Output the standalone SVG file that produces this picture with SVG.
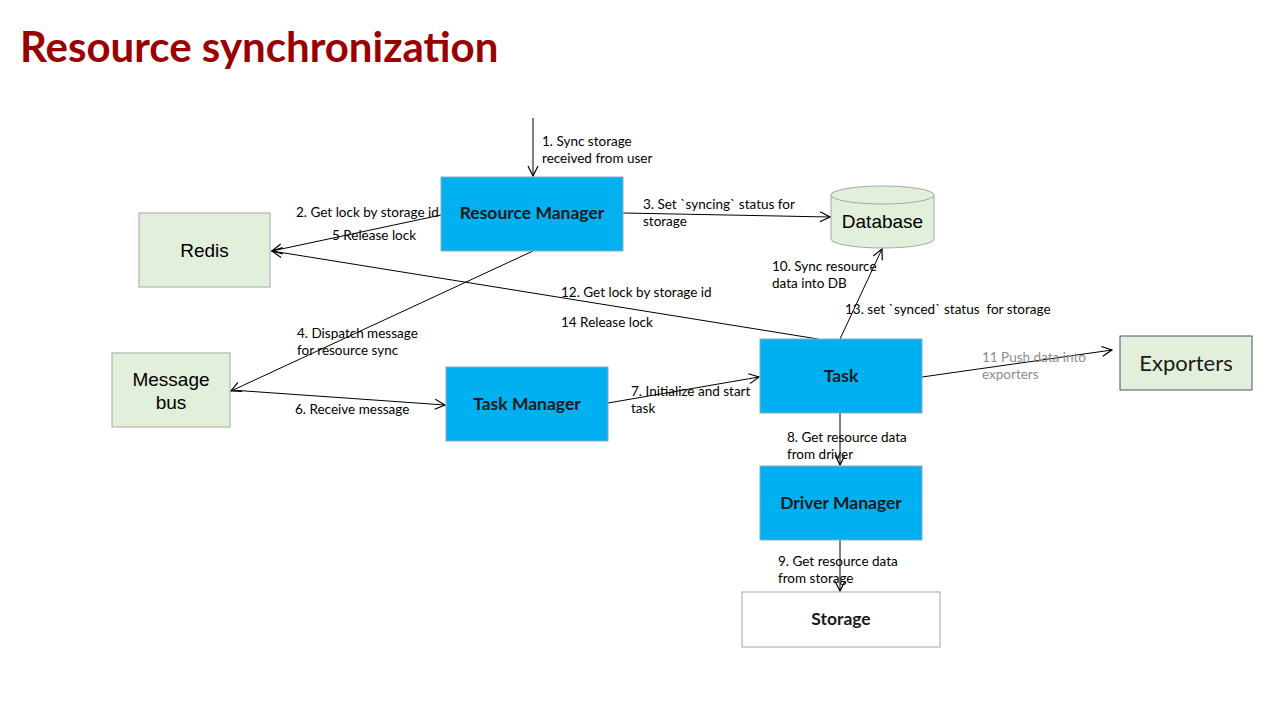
<svg xmlns="http://www.w3.org/2000/svg" width="1280" height="720" viewBox="0 0 1280 720">
<defs>
<marker id="arr" viewBox="0 0 12 12" refX="11" refY="6" markerWidth="12" markerHeight="12" markerUnits="userSpaceOnUse" orient="auto">
<path d="M1,1 L11,6 L1,11" fill="none" stroke="#000" stroke-width="1.2"/>
</marker>
<style>
.blue{fill:#00B0F0;stroke:#8EA9C1;stroke-width:1}
.green{fill:#E2EFDA;stroke:#A6A6A6;stroke-width:1}
.bt{font-family:Lato,"Liberation Sans",sans-serif;font-weight:bold;font-size:17.5px;fill:#1a1a1a;text-anchor:middle}
.gt{font-family:"Liberation Sans",Arial,sans-serif;font-size:19px;fill:#000;text-anchor:middle}
.ct{font-family:Lato,"Liberation Sans",sans-serif;font-size:22px;fill:#1a1a1a;text-anchor:middle}
.lb{font-family:Lato,"Liberation Sans",sans-serif;font-size:13.5px;fill:#000}
.lg{font-family:Lato,"Liberation Sans",sans-serif;font-size:13.5px;fill:#8c8c8c}
.c{fill:none;stroke:#000;stroke-width:1;marker-end:url(#arr)}
</style>
</defs>
<rect width="1280" height="720" fill="#fff"/>
<text x="20" y="62" font-family="Lato,'Liberation Sans',sans-serif" font-weight="bold" font-size="42" fill="#990000">Resource synchronization</text>

<g id="connectors">
<line class="c" x1="533" y1="118" x2="533" y2="176"/>
<line class="c" x1="441" y1="215" x2="272" y2="251"/>
<line class="c" x1="623" y1="213" x2="830" y2="217"/>
<line class="c" x1="533" y1="251" x2="231" y2="391"/>
<line class="c" x1="231" y1="390" x2="445" y2="405"/>
<line class="c" x1="608" y1="403" x2="759" y2="377"/>
<line class="c" x1="818" y1="339" x2="272" y2="251"/>
<line class="c" x1="840" y1="339" x2="882" y2="249"/>
<line class="c" x1="922" y1="377" x2="1112" y2="350"/>
<line class="c" x1="840" y1="413" x2="840" y2="465"/>
<line class="c" x1="840" y1="540" x2="840" y2="591"/>
</g>

<g id="labels">
<text class="lb" x="542" y="146">1. Sync storage</text>
<text class="lb" x="542" y="163">received from user</text>
<text class="lb" x="296" y="217">2. Get lock by storage id</text>
<text class="lb" x="332" y="240">5 Release lock</text>
<text class="lb" x="643" y="209">3. Set `syncing` status for</text>
<text class="lb" x="643" y="226">storage</text>
<text class="lb" x="297" y="338">4. Dispatch message</text>
<text class="lb" x="297" y="355">for resource sync</text>
<text class="lb" x="295" y="414">6. Receive message</text>
<text class="lb" x="631" y="396">7. Initialize and start</text>
<text class="lb" x="631" y="413">task</text>
<text class="lb" x="561" y="297">12. Get lock by storage id</text>
<text class="lb" x="561" y="327">14 Release lock</text>
<text class="lb" x="772" y="271">10. Sync resource</text>
<text class="lb" x="772" y="288">data into DB</text>
<text class="lb" x="845" y="314" xml:space="preserve">13. set `synced` status  for storage</text>
<text class="lg" x="982" y="362">11 Push data into</text>
<text class="lg" x="982" y="379">exporters</text>
<text class="lb" x="787" y="442">8. Get resource data</text>
<text class="lb" x="787" y="459">from driver</text>
<text class="lb" x="778" y="566">9. Get resource data</text>
<text class="lb" x="778" y="583">from storage</text>
</g>

<g id="resource-manager">
<rect class="blue" x="441" y="177" width="182" height="74"/>
<text class="bt" x="532" y="219">Resource Manager</text>
</g>
<g id="redis">
<rect class="green" x="139" y="213" width="131" height="74"/>
<text class="gt" x="204.5" y="257">Redis</text>
</g>
<g id="database">
<path d="M831,195 L831,239 A51.5,9 0 0 0 934,239 L934,195" class="green"/>
<ellipse cx="882.5" cy="195" rx="51.5" ry="9" class="green"/>
<text class="gt" x="882.5" y="228">Database</text>
</g>
<g id="message-bus">
<rect class="green" x="112" y="353" width="118" height="74"/>
<text class="gt" x="171" y="386">Message</text>
<text class="gt" x="171" y="409">bus</text>
</g>
<g id="task-manager">
<rect class="blue" x="446" y="367" width="162" height="74"/>
<text class="bt" x="527" y="410">Task Manager</text>
</g>
<g id="task">
<rect class="blue" x="760" y="339" width="162" height="74"/>
<text class="bt" x="841" y="382">Task</text>
</g>
<g id="exporters">
<rect x="1120" y="336" width="132" height="54" fill="#E2EFDA" stroke="#44546A" stroke-width="1"/>
<text class="ct" x="1186" y="371">Exporters</text>
</g>
<g id="driver-manager">
<rect class="blue" x="760" y="466" width="162" height="74"/>
<text class="bt" x="841" y="509">Driver Manager</text>
</g>
<g id="storage">
<rect x="742" y="592" width="198" height="55" fill="#fff" stroke="#A6A6A6" stroke-width="1"/>
<text class="bt" x="841" y="625">Storage</text>
</g>
</svg>
